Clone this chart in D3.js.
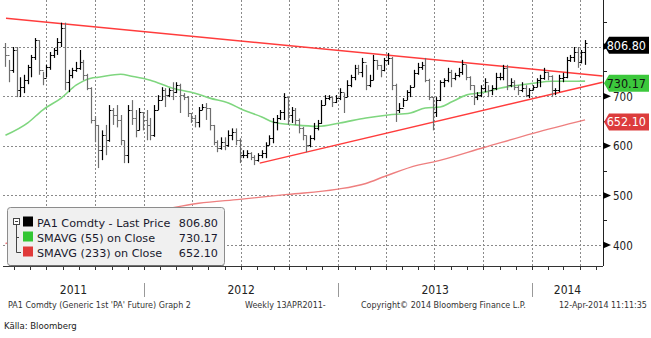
<!DOCTYPE html>
<html><head><meta charset="utf-8">
<script src="https://cdn.jsdelivr.net/npm/d3@7"></script>
<style>
body{margin:0;background:#fff;}
svg{display:block;font-family:"DejaVu Sans",sans-serif;}
.cond{font-family:"DejaVu Sans Condensed","DejaVu Sans",sans-serif;font-stretch:condensed;}
</style></head><body>
<svg id="c" width="651" height="338"></svg>
<script>
// ---- data (weekly PA1 Comdty bars, from 2011-04-15) ----
const firstWeek = "2011-04-15";
const opens = [800,
783,753,793,712,718,732,759,779,813,753,
736,759,783,793,809,837,728,743,753,757,
769,743,716,652,642,591,621,611,672,662,
652,611,581,672,656,631,668,652,642,621,
672,692,712,702,712,708,722,702,698,666,
656,648,672,678,676,642,607,595,607,601,
621,627,611,581,581,585,577,571,581,585,
601,615,648,656,668,698,662,672,652,635,
621,601,615,635,646,682,696,698,688,696,
708,698,722,738,757,749,769,722,732,773,
763,753,773,777,722,672,676,692,708,718,
747,759,763,732,698,668,692,728,732,749,
736,743,749,765,738,722,698,702,716,728,
712,716,738,738,757,722,728,718,712,716,
702,712,718,732,736,749,740,712,712,736,
738,773,779,789,769,789];
const highs = [
807,773,799,799,738,743,763,783,817,813,
749,763,789,797,817,848,848,753,757,769,
793,773,745,718,660,642,631,642,682,676,
682,662,611,682,692,672,676,668,672,656,
682,702,718,716,716,728,728,725,706,700,
666,662,678,684,686,676,642,611,617,617,
631,635,635,615,591,591,587,581,585,591,
607,621,656,662,672,706,698,678,676,655,
638,621,621,646,652,692,702,702,698,702,
716,706,732,743,763,763,777,763,743,783,
773,763,777,787,779,725,686,696,712,722,
753,767,769,777,735,698,698,732,736,757,
753,747,757,773,763,740,722,708,722,736,
722,722,747,747,763,763,736,732,722,728,
722,716,722,736,743,757,749,742,716,743,
747,779,783,799,799,793,813];
const lows = [
759,728,747,698,698,706,724,738,773,743,
722,738,753,777,783,799,712,708,736,749,
753,732,712,645,607,555,571,581,608,642,
637,601,565,565,642,617,631,631,611,611,
618,672,692,678,698,692,706,666,692,658,
646,637,637,672,652,631,601,587,592,591,
598,611,601,565,575,575,571,561,568,575,
575,601,605,631,652,652,642,646,642,625,
611,587,597,611,631,644,682,692,678,686,
692,666,698,718,732,743,738,712,718,732,
753,738,750,763,712,648,666,678,692,698,
718,743,753,728,692,631,658,690,718,728,
718,732,738,743,732,712,682,692,698,708,
698,702,712,732,732,712,718,712,702,708,
698,696,712,718,718,733,732,698,702,708,
728,736,769,769,757,766,763];
const closes = [
783,753,793,712,718,732,759,779,813,753,
736,759,783,793,809,837,728,743,753,757,
769,743,716,652,642,591,621,611,672,662,
652,611,581,672,656,631,668,652,642,621,
672,692,712,702,712,708,722,702,698,666,
656,648,672,678,676,642,607,595,607,601,
621,627,611,581,581,585,577,571,581,585,
601,615,648,656,668,698,662,672,652,635,
621,601,615,635,646,682,696,698,688,696,
708,698,722,738,757,749,769,722,732,773,
763,753,773,777,722,672,676,692,708,718,
747,759,763,732,698,668,692,728,732,749,
736,743,749,765,738,722,698,702,716,728,
712,716,738,738,757,722,728,718,712,716,
702,712,718,732,736,749,740,712,712,736,
738,773,779,789,769,789,806.8];

const sma55Weeks = [0,6,10,15,19,23,25,31,34,39,45,51,55,60,64,69,72,78,84,90,97,103,109,113,117,120,124,129,133,138,142,147,151,156];
const sma55 = [621,646,672,696,722,736,738,744,740,732,716,706,696,686,672,658,648,642,639,646,656,662,666,676,678,688,702,708,716,722,726,730,730,730.17];
const sma233Weeks = [0,28,52,63,76,89,97,102,111,115,129,142,156];
const sma233 = [403,446,484,492,502,512,524,538,561,567,597,625,652.10];

const upperTrendDates = ["2011-04-16","2014-05-14"];
const upperTrendVals = [857,740.5];
const lowerTrendDates = ["2012-08-06","2014-05-14"];
const lowerTrendVals = [565,728];

const yTicks = [400,500,600,700,800];
const yTickLabels = [400,500,600,700];   // 800 is hidden behind the last-price tag
const yMinorTicks = [450,550,650,750,850];
const yearLabels = ["2011","2012","2013","2014"];
const legendNames = ["PA1 Comdty - Last Price","SMAVG (55) on Close","SMAVG (233) on Close"];
const legendValues = ["806.80","730.17","652.10"];
const lastValues = [806.80,730.17,652.10];
const footer = ["PA1 Comdty (Generic 1st 'PA' Future) Graph 2","Weekly 13APR2011-","Copyright\u00a9 2014 Bloomberg Finance L.P.","12-Apr-2014 11:11:35"];
const source = "Källa: Bloomberg";

// ---- layout ----
const parse = d3.utcParse("%Y-%m-%d");
const L = 3, R = 603, T = 0, B = 266;
const x = d3.scaleUtc().domain([new Date(Date.UTC(2012,0,1)), new Date(Date.UTC(2014,0,1))]).range([144,532]);
const y = d3.scaleLinear().domain([400,800]).range([245,46.5]);
const dMin = x.invert(L), dMax = x.invert(R);
const week0 = parse(firstWeek);
const wDate = i => d3.utcDay.offset(week0, 7*i);

const svg = d3.select("#c");
svg.append("defs").append("clipPath").attr("id","clip").append("rect")
  .attr("x",L).attr("y",T).attr("width",R-L).attr("height",B-T);

// grid
const g = svg.append("g");
const quarters = d3.utcMonth.every(3).range(dMin, dMax);
g.selectAll("line.vg").data(quarters).join("line")
  .attr("x1",d=>Math.round(x(d))+0.5).attr("x2",d=>Math.round(x(d))+0.5)
  .attr("y1",T).attr("y2",B).attr("stroke","#8a8a8a").attr("stroke-dasharray","2,2");
g.selectAll("line.hg").data(yTicks).join("line")
  .attr("x1",L).attr("x2",R).attr("y1",d=>Math.round(y(d))+0.5).attr("y2",d=>Math.round(y(d))+0.5)
  .attr("stroke","#8a8a8a").attr("stroke-dasharray","2,2");

const plot = svg.append("g").attr("clip-path","url(#clip)");

// SMA 233
const line = d3.line().curve(d3.curveMonotoneX);
plot.append("path").attr("fill","none").attr("stroke","#ee7f7f").attr("stroke-width",1.4)
  .attr("d", line(sma233Weeks.map((w,i)=>[x(wDate(w)), y(sma233[i])])));
// SMA 55
plot.append("path").attr("fill","none").attr("stroke","#7fd67f").attr("stroke-width",1.6)
  .attr("d", line(sma55Weeks.map((w,i)=>[x(wDate(w)), y(sma55[i])])));

// trend lines
const lin = d3.line();
plot.append("path").attr("fill","none").attr("stroke","#ff3c3c").attr("stroke-width",1.5)
  .attr("d", lin(upperTrendDates.map((d,i)=>[x(parse(d)), y(upperTrendVals[i])])));
plot.append("path").attr("fill","none").attr("stroke","#ff3c3c").attr("stroke-width",1.5)
  .attr("d", lin(lowerTrendDates.map((d,i)=>[x(parse(d)), y(lowerTrendVals[i])])));

// OHLC bars
const bars = plot.append("g");
closes.forEach((c,i)=>{
  const cx = Math.round(x(wDate(i)))+0.5;
  const col = c >= opens[i] ? "#000" : "#6e6e6e";
  bars.append("line").attr("x1",cx).attr("x2",cx).attr("y1",y(highs[i])).attr("y2",y(lows[i]))
    .attr("stroke",col).attr("stroke-width",1.2);
  bars.append("line").attr("x1",cx-2).attr("x2",cx).attr("y1",Math.round(y(opens[i]))+0.5).attr("y2",Math.round(y(opens[i]))+0.5)
    .attr("stroke",col).attr("stroke-width",1);
  bars.append("line").attr("x1",cx).attr("x2",cx+2).attr("y1",Math.round(y(c))+0.5).attr("y2",Math.round(y(c))+0.5)
    .attr("stroke",col).attr("stroke-width",1);
});

// right axis
const ax = svg.append("g");
ax.append("line").attr("x1",R+0.5).attr("x2",R+0.5).attr("y1",T).attr("y2",B).attr("stroke","#222");
ax.selectAll("line.mt").data(yMinorTicks).join("line")
  .attr("x1",R).attr("x2",R+4).attr("y1",d=>Math.round(y(d))+0.5).attr("y2",d=>Math.round(y(d))+0.5).attr("stroke","#222");
ax.selectAll("path.tri").data(yTicks).join("path")
  .attr("d",d=>{const yy=y(d);return `M${R},${yy-3.5}L${R+8},${yy}L${R},${yy+3.5}Z`;}).attr("fill","#000");
ax.selectAll("text.yl").data(yTickLabels).join("text").attr("class","cond")
  .attr("x",R+10).attr("y",d=>y(d)+4.5).attr("font-size",11.5).attr("fill","#222").text(d=>d);

// bottom axis
ax.append("line").attr("x1",L).attr("x2",R).attr("y1",B+0.5).attr("y2",B+0.5).attr("stroke","#333");
const months = d3.utcMonth.every(1).range(dMin, dMax);
ax.selectAll("line.mo").data(months).join("line")
  .attr("x1",d=>Math.round(x(d))+0.5).attr("x2",d=>Math.round(x(d))+0.5)
  .attr("y1",B).attr("y2",B+4).attr("stroke","#333");
const yearStarts = yearLabels.map(s=>new Date(Date.UTC(+s,0,1)));
ax.selectAll("line.ys").data(yearStarts.slice(1)).join("line")
  .attr("x1",d=>Math.round(x(d))+0.5).attr("x2",d=>Math.round(x(d))+0.5)
  .attr("y1",283).attr("y2",297).attr("stroke","#999");
ax.selectAll("text.yr").data(yearLabels).join("text").attr("class","cond")
  .attr("x",(d,i)=>{const a=Math.max(L,x(yearStarts[i]));const b=Math.min(R,x(new Date(Date.UTC(+d+1,0,1))));return (a+b)/2;})
  .attr("y",294).attr("text-anchor","middle").attr("font-size",12).attr("fill","#222").text(d=>d);

// legend
const lg = svg.append("g");
lg.append("rect").attr("x",7.5).attr("y",207.5).attr("width",217).attr("height",58).attr("rx",3)
  .attr("fill","#f0f0f0").attr("stroke","#8c8c8c");
lg.append("line").attr("x1",9).attr("x2",224).attr("y1",266).attr("y2",266).attr("stroke","#555");
const legendColors = ["#000","#33c633","#e03a3a"];
lg.append("rect").attr("x",13.5).attr("y",218.5).attr("width",6).attr("height",6).attr("fill","#fff").attr("stroke","#444");
lg.append("line").attr("x1",15).attr("x2",18).attr("y1",221.5).attr("y2",221.5).attr("stroke","#444");
lg.append("path").attr("d","M16.5,225V252.5H21M16.5,237.5H19").attr("fill","none").attr("stroke","#444");
legendNames.forEach((n,i)=>{
  const yy = 226.5 + i*15;
  lg.append("rect").attr("x",23).attr("y",yy-10).attr("width",10).attr("height",10).attr("fill",legendColors[i]);
  lg.append("text").attr("x",37).attr("y",yy).attr("font-size",11.2).attr("fill","#1a1a2e").text(n);
  lg.append("text").attr("x",218).attr("y",yy).attr("text-anchor","end").attr("font-size",11.2).attr("fill","#1a1a2e").text(legendValues[i]);
});

// last value tags
const tagFill = ["#000","#3cc83c","#dc3c3c"];
const tagText = ["#fff","#111","#fff"];
lastValues.forEach((v,i)=>{
  const cy = y(v)+2;
  svg.append("path").attr("d",`M${R+1},${cy}L${R+6},${cy-8.5}H649V${cy+8.5}H${R+6}Z`).attr("fill",tagFill[i]);
  svg.append("text").attr("class","cond").attr("x",646).attr("y",cy+4.5).attr("text-anchor","end").attr("font-size",12.5)
    .attr("fill",tagText[i]).text(legendValues[i]);
});

// footer
const fx = [8,245,361,559];
footer.forEach((t,i)=>{
  svg.append("text").attr("x",fx[i]).attr("y",308).attr("font-size",8).attr("fill","#333").text(t);
});
svg.append("text").attr("x",4).attr("y",329).attr("font-size",9.5)
  .attr("font-family","'Liberation Sans Narrow','DejaVu Sans Condensed',sans-serif").attr("fill","#222").text(source);
</script></body></html>
